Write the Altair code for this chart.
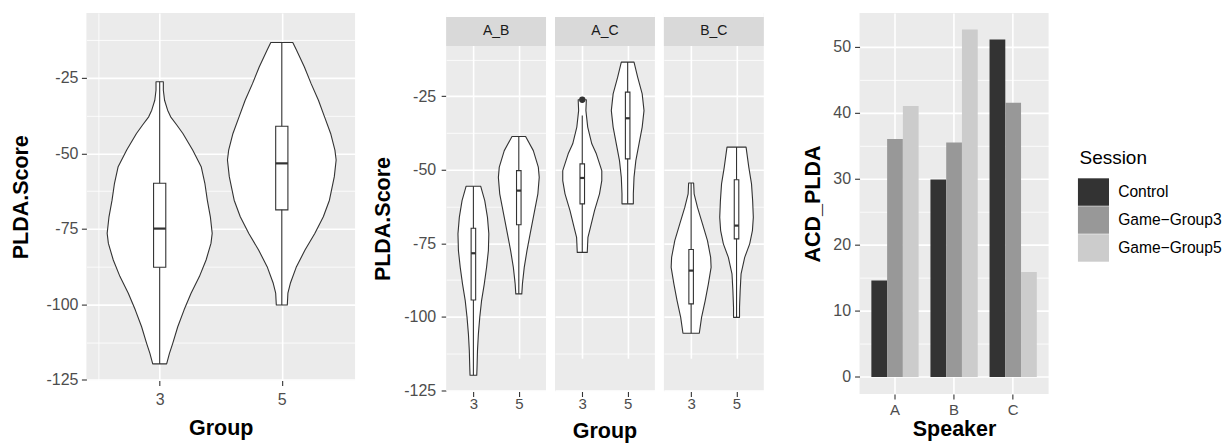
import altair as alt
import pandas as pd

FONT = "Liberation Sans"
PANEL_BG = "#EBEBEB"
STRIP_BG = "#D9D9D9"
INK = "#333333"
LABEL_GREY = "#4D4D4D"

# ---------------- data ----------------
GROUPS = ["3", "5"]

# Panel 1: violin outlines (score, half width in category units)
P1_G3_SCORE = [-26.3, -29.1, -32.4, -35.7, -37.9, -40.6, -43.4, -48.9, -54.4, -59.9, -65.5,
               -71.0, -76.5, -79.8, -85.3, -90.8, -96.3, -101.8, -107.4, -112.9, -116.2, -119.7]
P1_G3_HALF = [0.03, 0.03, 0.04, 0.065, 0.09, 0.14, 0.19, 0.27, 0.34, 0.37, 0.39,
              0.415, 0.43, 0.42, 0.38, 0.325, 0.257, 0.20, 0.148, 0.107, 0.08, 0.057]
P1_G5_SCORE = [-13.3, -15.8, -21.4, -26.9, -32.4, -37.9, -43.4, -48.9, -52.2, -57.7, -65.5,
               -71.0, -76.5, -82.0, -87.5, -93.0, -96.3, -100.2]
P1_G5_HALF = [0.09, 0.12, 0.185, 0.24, 0.30, 0.35, 0.40, 0.435, 0.445, 0.43, 0.39,
              0.34, 0.27, 0.19, 0.12, 0.07, 0.05, 0.045]
# Panel 1 box statistics (group 3, group 5)
P1_LOWER = [-119.7, -100.2]
P1_Q1 = [-87.7, -68.7]
P1_MEDIAN = [-74.9, -53.3]
P1_Q3 = [-59.9, -41.0]
P1_UPPER = [-26.3, -13.3]

# Panel 2: faceted by speaker pair
PAIRS = ["A_B", "A_C", "B_C"]
P2_AB3_SCORE = [-55.6, -60.5, -66.2, -71.8, -77.5, -83.2, -88.8, -94.5, -100.2, -105.8, -111.5, -117.2, -119.9]
P2_AB3_HALF = [0.16, 0.25, 0.31, 0.34, 0.33, 0.29, 0.24, 0.18, 0.14, 0.11, 0.09, 0.08, 0.074]
P2_AB5_SCORE = [-38.7, -43.5, -49.1, -52.6, -58.2, -66.2, -71.8, -77.5, -83.2, -88.8, -92.2]
P2_AB5_HALF = [0.15, 0.32, 0.43, 0.45, 0.42, 0.32, 0.25, 0.18, 0.12, 0.08, 0.066]
P2_AC3_SCORE = [-26.2, -29.9, -35.5, -41.2, -44.6, -50.3, -53.7, -58.2, -63.9, -69.6, -73.0, -78.1]
P2_AC3_HALF = [0.09, 0.08, 0.12, 0.21, 0.31, 0.43, 0.43, 0.38, 0.27, 0.18, 0.125, 0.11]
P2_AC5_SCORE = [-13.4, -18.5, -24.2, -29.9, -35.5, -41.2, -46.9, -52.6, -58.2, -61.6]
P2_AC5_HALF = [0.14, 0.22, 0.32, 0.36, 0.32, 0.25, 0.18, 0.14, 0.125, 0.125]
P2_BC3_SCORE = [-54.5, -58.2, -62.8, -68.4, -74.1, -79.8, -83.2, -88.8, -94.5, -100.2, -105.6]
P2_BC3_HALF = [0.055, 0.066, 0.14, 0.25, 0.36, 0.43, 0.44, 0.38, 0.31, 0.23, 0.18]
P2_BC5_SCORE = [-42.3, -49.1, -54.8, -60.5, -66.2, -70.7, -75.2, -79.8, -85.4, -91.1, -96.8, -100.2]
P2_BC5_HALF = [0.21, 0.27, 0.33, 0.355, 0.37, 0.35, 0.29, 0.18, 0.10, 0.08, 0.066, 0.066]
# Panel 2 box statistics, order: A_B/3, A_B/5, A_C/3, A_C/5, B_C/3, B_C/5
P2_LOWER = [-119.9, -92.2, -78.1, -61.6, -105.6, -100.2]
P2_Q1 = [-94.3, -68.7, -61.6, -46.3, -95.6, -73.5]
P2_MEDIAN = [-78.4, -57.1, -52.8, -32.5, -84.3, -69.0]
P2_Q3 = [-69.9, -50.3, -48.0, -23.6, -77.1, -53.4]
P2_UPPER = [-55.6, -38.7, -31.6, -13.4, -54.5, -42.3]
P2_OUTLIER_PAIR = ["A_C"]
P2_OUTLIER_GROUP = ["3"]
P2_OUTLIER_SCORE = [-26.2]

# Panel 3: grouped bars
SPEAKERS = ["A", "B", "C"]
SESSIONS = ["Control", "Game\u2212Group3", "Game\u2212Group5"]
CONTROL = [14.6, 29.9, 51.1]
GAME_GROUP3 = [36.0, 35.5, 41.5]
GAME_GROUP5 = [41.0, 52.6, 15.9]
SESSION_COLORS = ["#333333", "#989898", "#CCCCCC"]

# ---------------- tables ----------------
def outline_rows(pair, group, scores, halves):
    pos = GROUPS.index(group) + 1
    return [dict(kind="outline", pair=pair, vid=f"{pair}-{group}", pos=pos, score=s, hw=h)
            for s, h in zip(scores, halves)]


def box_rows(pairs_groups, lo, q1, med, q3, hi):
    rows = []
    for (pair, group), a, b, c, d, e in zip(pairs_groups, lo, q1, med, q3, hi):
        rows.append(dict(kind="box", pair=pair, vid=f"{pair}-{group}", pos=GROUPS.index(group) + 1,
                         lo=a, q1=b, med=c, q3=d, hi=e))
    return rows


rows1 = (outline_rows("all", "3", P1_G3_SCORE, P1_G3_HALF)
         + outline_rows("all", "5", P1_G5_SCORE, P1_G5_HALF)
         + box_rows([("all", "3"), ("all", "5")], P1_LOWER, P1_Q1, P1_MEDIAN, P1_Q3, P1_UPPER))
df1 = pd.DataFrame(rows1)

rows2 = (outline_rows("A_B", "3", P2_AB3_SCORE, P2_AB3_HALF)
         + outline_rows("A_B", "5", P2_AB5_SCORE, P2_AB5_HALF)
         + outline_rows("A_C", "3", P2_AC3_SCORE, P2_AC3_HALF)
         + outline_rows("A_C", "5", P2_AC5_SCORE, P2_AC5_HALF)
         + outline_rows("B_C", "3", P2_BC3_SCORE, P2_BC3_HALF)
         + outline_rows("B_C", "5", P2_BC5_SCORE, P2_BC5_HALF))
pg = [(p, g) for p in PAIRS for g in GROUPS]
rows2 += box_rows(pg, P2_LOWER, P2_Q1, P2_MEDIAN, P2_Q3, P2_UPPER)
for p, g, s in zip(P2_OUTLIER_PAIR, P2_OUTLIER_GROUP, P2_OUTLIER_SCORE):
    rows2.append(dict(kind="outlier", pair=p, vid=f"{p}-{g}", pos=GROUPS.index(g) + 1, score=s))
for p in PAIRS:
    rows2.append(dict(kind="label", pair=p))
df2 = pd.DataFrame(rows2)

bar_rows = []
for i, sp in enumerate(SPEAKERS):
    for ses, vals in zip(SESSIONS, [CONTROL, GAME_GROUP3, GAME_GROUP5]):
        bar_rows.append(dict(speaker=sp, session=ses, value=vals[i]))
df3 = pd.DataFrame(bar_rows)

# ---------------- axes helpers ----------------
def y_axis(title, values, step, title_pad, label_pad):
    minor = f"datum.value % {step} !== 0"
    return alt.Axis(
        title=title, values=values,
        labelExpr=f"datum.value % {step} === 0 ? '' + datum.value : ''",
        tickOpacity={"condition": {"test": minor, "value": 0}, "value": 1},
        gridWidth={"condition": {"test": minor, "value": 0.8}, "value": 1.6},
        gridColor="white", grid=True, domain=False, tickSize=5, tickColor=INK, tickWidth=1.1,
        labelPadding=label_pad, labelFontSize=16, labelColor=LABEL_GREY, labelFont=FONT,
        labelOverlap=False,
        titleFont=FONT, titleFontSize=21.5, titleFontWeight="bold", titleColor="black",
        titlePadding=title_pad,
    )


def x_axis_violin(values, title, title_pad, label_pad, label_size):
    minor = "datum.value !== 1 && datum.value !== 2"
    return alt.Axis(
        title=title, values=values,
        labelExpr=f"datum.value === 1 ? '{GROUPS[0]}' : datum.value === 2 ? '{GROUPS[1]}' : ''",
        tickOpacity={"condition": {"test": minor, "value": 0}, "value": 1},
        gridWidth={"condition": {"test": minor, "value": 0.8}, "value": 1.6},
        gridColor="white", grid=True, domain=False, tickSize=5, tickColor=INK, tickWidth=1.1,
        labelPadding=label_pad, labelFontSize=label_size, labelColor=LABEL_GREY, labelFont=FONT,
        labelOverlap=False, labelFlush=False,
        titleFont=FONT, titleFontSize=21.5, titleFontWeight="bold", titleColor="black",
        titlePadding=title_pad,
    )


def violin_layers(ysc, yax, xax, box_half=0.05):
    xsc = alt.Scale(domain=[0.4, 2.6], nice=False, zero=False)

    def X(f):
        return alt.X(f, type="quantitative", scale=xsc, axis=xax)

    def Y(f):
        return alt.Y(f, type="quantitative", scale=ysc, axis=yax)

    area = alt.Chart().mark_area(
        orient="horizontal", fill="white", stroke=INK, strokeWidth=1.1, strokeJoin="round"
    ).transform_filter("datum.kind === 'outline'").transform_calculate(
        left="datum.pos - datum.hw", right="datum.pos + datum.hw"
    ).encode(y=Y("score"), x=X("left"), x2="right:Q", detail="vid:N")

    whisker = alt.Chart().mark_rule(color=INK, strokeWidth=1.1).transform_filter(
        "datum.kind === 'box'"
    ).encode(x=X("pos"), y=Y("lo"), y2="hi:Q")

    box = alt.Chart().mark_rect(fill="white", stroke=INK, strokeWidth=1.1).transform_filter(
        "datum.kind === 'box'"
    ).transform_calculate(
        bl=f"datum.pos - {box_half}", br=f"datum.pos + {box_half}"
    ).encode(x=X("bl"), x2="br:Q", y=Y("q1"), y2="q3:Q")

    median = alt.Chart().mark_rule(color=INK, strokeWidth=2.2).transform_filter(
        "datum.kind === 'box'"
    ).transform_calculate(
        bl=f"datum.pos - {box_half}", br=f"datum.pos + {box_half}"
    ).encode(x=X("bl"), x2="br:Q", y=Y("med"))

    outlier = alt.Chart().mark_circle(color=INK, opacity=1, size=40).transform_filter(
        "datum.kind === 'outlier'"
    ).encode(x=X("pos"), y=Y("score"))

    return [area, whisker, box, median, outlier]


# ---------------- panel 1 ----------------
P1_W, P1_H = 269, 368
p1_yvals = [-125 + 12.5 * i for i in range(10)]
p1 = alt.layer(
    *violin_layers(
        alt.Scale(domain=[-125.2, -3.5], nice=False, zero=False),
        y_axis("PLDA.Score", p1_yvals, 25, 13.8, 3.5),
        x_axis_violin([0.5, 1, 2], "Group", 10, 6, 16),
    ),
    data=df1,
).properties(width=P1_W, height=P1_H)

# ---------------- panel 2 ----------------
P2_W, P2_H = 100, 345.7
STRIP_H = 29
TOP_GAP = 4
P2_TOTAL = P2_H + STRIP_H + TOP_GAP
p2_layers = violin_layers(
    alt.Scale(domain=[-125.3, -7.9], range=[P2_TOTAL, STRIP_H + TOP_GAP], nice=False, zero=False),
    y_axis("PLDA.Score", p1_yvals, 25, 9.5, 5.5),
    x_axis_violin([1, 2], None, 0, 0, 15),
)
gap_cover = alt.Chart().mark_rect(fill="white").transform_filter("datum.kind === 'label'").encode(
    x=alt.value(0), x2=alt.value(P2_W), y=alt.value(0), y2=alt.value(TOP_GAP)
)
strip = alt.Chart().mark_rect(fill=STRIP_BG).transform_filter("datum.kind === 'label'").encode(
    x=alt.value(0), x2=alt.value(P2_W), y=alt.value(TOP_GAP), y2=alt.value(TOP_GAP + STRIP_H)
)
strip_text = alt.Chart().mark_text(font=FONT, fontSize=14, color="#1A1A1A").transform_filter(
    "datum.kind === 'label'"
).encode(text="pair:N", x=alt.value(P2_W / 2), y=alt.value(TOP_GAP + STRIP_H / 2))
p2 = alt.layer(*p2_layers, gap_cover, strip, strip_text, data=df2).properties(
    width=P2_W, height=P2_TOTAL
).facet(
    column=alt.Column(
        "pair:N", sort=PAIRS, title="Group",
        header=alt.Header(labels=False, titleOrient="bottom", titleFont=FONT, titleFontSize=21.5,
                          titleFontWeight="bold", titleColor="black", titlePadding=0),
    ),
    spacing=9,
)

# ---------------- panel 3 ----------------
P3_W, P3_H = 189.3, 381.6
p3_yvals = [5 * i for i in range(11)]
p3 = alt.Chart(df3).mark_bar().encode(
    x=alt.X("speaker:N", sort=SPEAKERS,
            scale=alt.Scale(paddingInner=0.2, paddingOuter=0.2),
            axis=alt.Axis(title="Speaker", labelAngle=0, bandPosition=0.5, grid=True, gridColor="white",
                          gridWidth=1.6, domain=False, tickSize=5, tickColor=INK, tickWidth=1.1,
                          labelPadding=3, labelFontSize=15, labelColor=LABEL_GREY, labelFont=FONT,
                          titleFont=FONT, titleFontSize=21.5, titleFontWeight="bold",
                          titleColor="black", titlePadding=1.5)),
    xOffset=alt.XOffset("session:N", sort=SESSIONS, scale=alt.Scale(paddingInner=0, paddingOuter=0)),
    y=alt.Y("value:Q", scale=alt.Scale(domain=[-2.6, 55.1], nice=False, zero=False),
            axis=y_axis("ACD_PLDA", p3_yvals, 10, 8.6, 4)),
    y2=alt.datum(0),
    color=alt.Color(
        "session:N", sort=SESSIONS,
        scale=alt.Scale(domain=SESSIONS, range=SESSION_COLORS),
        legend=alt.Legend(
            orient="none", legendX=994.3, legendY=136.6, title="Session", titleFont=FONT,
            titleFontSize=19, titleFontWeight="normal", titleColor="black", titlePadding=9.7,
            labelFont=FONT, labelFontSize=15.6, labelColor="black",
            symbolType="M-1.13,-1H1.13V1H-1.13Z", symbolSize=756, symbolStrokeWidth=0,
            symbolOpacity=1, rowPadding=0, labelOffset=10.7, padding=0,
        ),
    ),
).properties(width=P3_W, height=P3_H)

chart = alt.concat(
    alt.concat(p1, p2, columns=2, spacing=16.2, align="none"),
    p3,
    columns=2,
    spacing=37.1,
    align="none",
).configure(
    font=FONT, padding={"left": 1.5, "top": 4.7, "right": 0, "bottom": 0}
).configure_view(fill=PANEL_BG, stroke=None)

chart.save("out.html", embed_options={"renderer": "svg", "actions": False})
